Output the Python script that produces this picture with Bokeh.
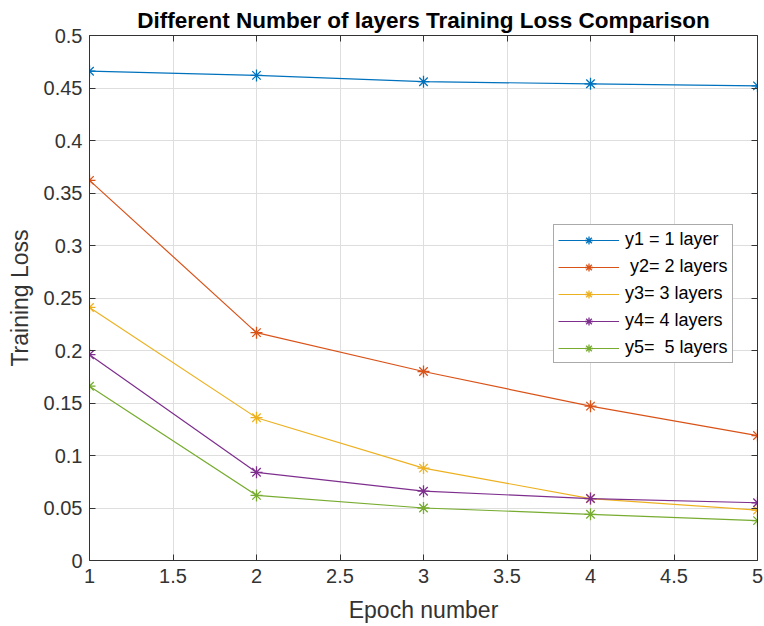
from bokeh.plotting import figure
from bokeh.models import FixedTicker, LinearAxis, Range1d, Legend, LegendItem
from bokeh.embed import file_html
from bokeh.resources import INLINE

epochs = [1, 2, 3, 4, 5]
y1 = [0.466, 0.462, 0.456, 0.454, 0.452]
y2 = [0.362, 0.217, 0.180, 0.147, 0.119]
y3 = [0.241, 0.136, 0.088, 0.059, 0.048]
y4 = [0.196, 0.084, 0.066, 0.059, 0.055]
y5 = [0.166, 0.062, 0.050, 0.044, 0.038]
labels = ["y1 = 1 layer", " y2= 2 layers", "y3= 3 layers", "y4= 4 layers", "y5=  5 layers"]
colors = ["#0072BD", "#D95319", "#EDB120", "#7E2F8E", "#77AC30"]
x_ticks = [1, 1.5, 2, 2.5, 3, 3.5, 4, 4.5, 5]
y_ticks = [0, 0.05, 0.1, 0.15, 0.2, 0.25, 0.3, 0.35, 0.4, 0.45, 0.5]

FONT = "Liberation Sans"
TXT = "#333333"

p = figure(width=764, height=626, output_backend="svg", toolbar_location=None,
           x_range=Range1d(1, 5), y_range=Range1d(0, 0.5),
           min_border_left=89, min_border_right=7, min_border_top=35, min_border_bottom=66)
p.title.text = "Different Number of layers Training Loss Comparison"
p.title.align = "center"
p.title.text_font = FONT
p.title.text_font_size = "22.5px"
p.title.text_font_style = "bold"
p.title.text_color = "#000000"
p.title.offset = 0
p.title.standoff = 6

def fmt(v):
    return "%g" % v

for ax, ticks in ((p.xaxis[0], x_ticks), (p.yaxis[0], y_ticks)):
    ax.ticker = FixedTicker(ticks=ticks)
    ax.major_label_overrides = {t: fmt(t) for t in ticks}
    ax.major_label_text_font = FONT
    ax.major_label_text_font_size = "20px"
    ax.major_label_text_color = TXT
    ax.axis_label_text_font = FONT
    ax.axis_label_text_font_size = "23px"
    ax.axis_label_text_font_style = "normal"
    ax.axis_label_text_color = TXT
    ax.major_tick_in = 6
    ax.major_tick_out = 0
    ax.minor_tick_line_color = None
    ax.axis_line_color = TXT
    ax.major_tick_line_color = TXT

p.xaxis[0].axis_label = "Epoch number"
p.yaxis[0].axis_label = "Training Loss"
p.xaxis[0].major_label_standoff = 8
p.yaxis[0].major_label_standoff = 7
p.xaxis[0].axis_label_standoff = 11
p.yaxis[0].axis_label_standoff = 8

for side, ticks in (("right", y_ticks), ("above", x_ticks)):
    ax = LinearAxis(ticker=FixedTicker(ticks=ticks))
    ax.major_label_text_font_size = "0px"
    ax.major_label_text_color = None
    ax.major_tick_in = 6
    ax.major_tick_out = 0
    ax.minor_tick_line_color = None
    ax.axis_line_color = TXT
    ax.major_tick_line_color = TXT
    ax.major_label_standoff = 0
    p.add_layout(ax, side)

p.xgrid.ticker = FixedTicker(ticks=x_ticks)
p.ygrid.ticker = FixedTicker(ticks=y_ticks)
p.grid.grid_line_color = "#dedede"
p.grid.grid_line_width = 1
p.outline_line_color = None

series = [y1, y2, y3, y4, y5]
items = []
for ys, c, lab in zip(series, colors, labels):
    l = p.line(epochs, ys, line_color=c, line_width=1.2)
    s = p.scatter(epochs, ys, marker="asterisk", size=12, line_color=c, line_width=1.3)
    items.append(LegendItem(label=lab, renderers=[l, s]))

legend = Legend(items=items, location=(464, 197))
legend.label_text_font = FONT
legend.label_text_font_size = "18px"
legend.label_text_color = "#000000"
legend.glyph_width = 61
legend.glyph_height = 20
legend.label_height = 20
legend.spacing = 6
legend.padding = 4
legend.margin = 0
legend.label_standoff = 6
legend.border_line_color = "#555555"
legend.border_line_width = 1
legend.background_fill_color = "white"
legend.background_fill_alpha = 1
p.add_layout(legend, "center")

open("out.html", "w").write(file_html(p, INLINE))
